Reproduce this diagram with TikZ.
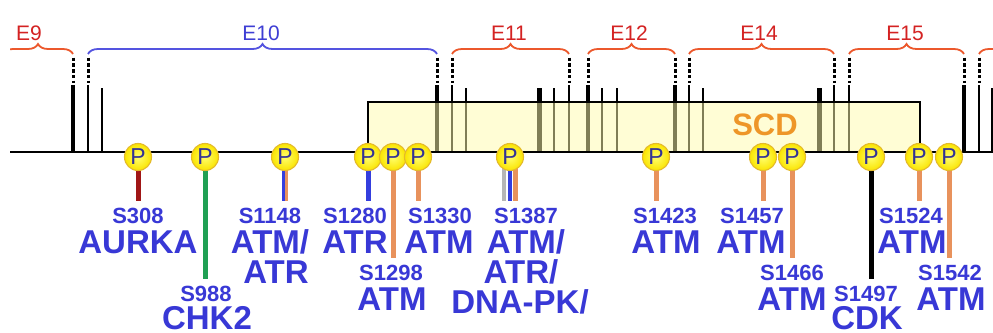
\documentclass[tikz,border=0pt]{standalone}
\usepackage{fontspec}
\setmainfont{Liberation Sans}
\usetikzlibrary{decorations.pathreplacing}

\definecolor{exred}{RGB}{212,34,34}
\definecolor{bracered}{RGB}{236,88,44}
\definecolor{exblue}{RGB}{62,62,212}
\definecolor{braceblue}{RGB}{84,84,224}
\definecolor{sitetext}{RGB}{56,56,214}
\definecolor{pletter}{RGB}{50,50,150}
\definecolor{pring}{RGB}{228,186,44}
\definecolor{ballin}{RGB}{255,255,110}
\definecolor{ballout}{RGB}{250,228,0}
\definecolor{stemorange}{RGB}{232,146,92}
\definecolor{stemblue}{RGB}{52,62,222}
\definecolor{stemred}{RGB}{160,22,22}
\definecolor{stemgreen}{RGB}{32,160,84}
\definecolor{stemgray}{RGB}{182,182,182}
\definecolor{scdfill}{RGB}{255,252,172}
\definecolor{scdtext}{RGB}{238,150,40}

\pgfdeclarelayer{paper}
\pgfdeclarelayer{stems}
\pgfsetlayers{paper,stems,main}

\tikzset{
  exonlabel/.style={font=\fontsize{21}{21}\selectfont, inner sep=0pt, anchor=base},
  exbrace/.style={decorate, decoration={brace, amplitude=10pt}, line width=1.8pt},
  barthick/.style={line width=4.5pt},
  barmid/.style={line width=2.8pt},
  barthin/.style={line width=2.2pt},
  barblock/.style={line width=5pt},
  dots/.style={line width=3pt, dash pattern=on 3.4pt off 2.4pt},
  pball/.style={circle, minimum size=27pt, inner sep=0pt, inner color=ballin,
    outer color=ballout, draw=pring, line width=1.1pt,
    font=\fontsize{23}{23}\selectfont, text=pletter},
  site/.style={font=\bfseries\fontsize{22}{22}\selectfont, text=sitetext,
    inner sep=0pt, anchor=base},
  kinase/.style={font=\bfseries\fontsize{33}{33}\selectfont, text=sitetext,
    inner sep=0pt, anchor=base},
  stem/.style={line width=5pt, shorten <=13pt, shorten >=6pt},
  halfstem/.style={line width=3pt, shorten <=13pt, shorten >=6pt},
  thirdstem/.style={line width=4.6pt, shorten <=11pt, shorten >=6pt},
}

\begin{document}
\begin{tikzpicture}[x=1pt, y=-1pt]
\useasboundingbox (0,0) rectangle (993,332);
\begin{pgfonlayer}{paper}
  \fill[white] (0,0) rectangle (993,332);
\end{pgfonlayer}

% exon boundary and internal bars
\foreach \x in {73,437,588,675,964} \draw[barthick] (\x,85) -- (\x,152);
\foreach \x in {88,452,569,689,834,849,979} \draw[barmid] (\x,85) -- (\x,152);
\foreach \x in {102,466,554,602,617,703,992} \draw[barthin] (\x,88) -- (\x,152);
\foreach \x in {539,819} \draw[barblock] (\x,88) -- (\x,152);
\foreach \x in {73,88,437,452,569,588,675,689,834,849,964,979}
  \draw[dots] (\x,57.5) -- (\x,83);

% SCD region, translucent over the bars
\fill[scdfill, fill opacity=0.5] (368,102) rectangle (920,152);
\draw[line width=2pt] (368,152) |- (920,102) -- (920,152);
\node[font=\bfseries\fontsize{31}{31}\selectfont, text=scdtext, inner sep=0pt] (scd) at (765,125) {SCD};

% main line
\draw[line width=2pt] (10,152) -- (993,152);

% exon braces
\begin{scope}
  \clip (10,0) rectangle (993,332);
  \draw[exbrace, bracered] (3,54) -- (73,54);
  \draw[exbrace, braceblue] (88,54) -- (437,54);
  \draw[exbrace, bracered] (452,54) -- (569,54);
  \draw[exbrace, bracered] (588,54) -- (675,54);
  \draw[exbrace, bracered] (689,54) -- (834,54);
  \draw[exbrace, bracered] (849,54) -- (964,54);
  \draw[exbrace, bracered] (979,54) -- (1110,54);
\end{scope}
\node[exonlabel, text=exred] (e9) at (29,40) {E9};
\node[exonlabel, text=exblue] (e10) at (261,40) {E10};
\node[exonlabel, text=exred] (e11) at (509,40) {E11};
\node[exonlabel, text=exred] (e12) at (629,40) {E12};
\node[exonlabel, text=exred] (e14) at (759,40) {E14};
\node[exonlabel, text=exred] (e15) at (905,40) {E15};

% phosphorylation sites
\node[pball] (p308)  at (138,157) {P};
\node[pball] (p988)  at (205,157) {P};
\node[pball] (p1148) at (285,157) {P};
\node[pball] (p1280) at (368,157) {P};
\node[pball] (p1298) at (393,157) {P};
\node[pball] (p1330) at (418,157) {P};
\node[pball] (p1387) at (510,157) {P};
\node[pball] (p1423) at (656,157) {P};
\node[pball] (p1457) at (763,157) {P};
\node[pball] (p1466) at (792,157) {P};
\node[pball] (p1497) at (871,157) {P};
\node[pball] (p1524) at (919,157) {P};
\node[pball] (p1542) at (949,157) {P};

% residues and kinases
\node[site] (s308) at (138,223) {S308};
\node[kinase] (k308) at (138,253) {AURKA};
\node[site] (s988) at (206,301) {S988};
\node[kinase] (k988) at (207,329) {CHK2};
\node[site] (s1148) at (270,223) {S1148};
\node[kinase] (k1148a) at (270,253) {ATM/};
\node[kinase] (k1148b) at (276,283) {ATR};
\node[site] (s1280) at (355,223) {S1280};
\node[kinase] (k1280) at (355,253) {ATR};
\node[site] (s1298) at (391,280) {S1298};
\node[kinase] (k1298) at (392,310) {ATM};
\node[site] (s1330) at (440,223) {S1330};
\node[kinase] (k1330) at (439,253) {ATM};
\node[site] (s1387) at (526,223) {S1387};
\node[kinase] (k1387a) at (526,253) {ATM/};
\node[kinase] (k1387b) at (521,283) {ATR/};
\node[kinase] (k1387c) at (520,313) {DNA-PK/};
\node[site] (s1423) at (665,223) {S1423};
\node[kinase] (k1423) at (666,253) {ATM};
\node[site] (s1457) at (752,223) {S1457};
\node[kinase] (k1457) at (751,253) {ATM};
\node[site] (s1466) at (792,280) {S1466};
\node[kinase] (k1466) at (792,310) {ATM};
\node[site] (s1497) at (866,301) {S1497};
\node[kinase] (k1497) at (867,329) {CDK};
\node[site] (s1524) at (911,223) {S1524};
\node[kinase] (k1524) at (912,253) {ATM};
\node[site] (s1542) at (950,280) {S1542};
\node[kinase] (k1542) at (951,310) {ATM};

% stems from each site to its residue label
\begin{pgfonlayer}{stems}
  \draw[stem, stemred] (p308.center) -- (p308.center |- s308.north);
  \draw[stem, stemgreen] (p988.center) -- (p988.center |- s988.north);
  \draw[halfstem, stemblue] ([xshift=-1.5pt]p1148.center) -- ([xshift=-1.5pt]p1148.center |- s1148.north);
  \draw[halfstem, stemorange] ([xshift=1.5pt]p1148.center) -- ([xshift=1.5pt]p1148.center |- s1148.north);
  \draw[stem, stemblue] (p1280.center) -- (p1280.center |- s1280.north);
  \draw[stem, stemorange] (p1298.center) -- (p1298.center |- s1298.north);
  \draw[stem, stemorange] (p1330.center) -- (p1330.center |- s1330.north);
  \draw[thirdstem, stemgray] ([xshift=-6pt]p1387.center) -- ([xshift=-6pt]p1387.center |- s1387.north);
  \draw[thirdstem, stemblue] (p1387.center) -- (p1387.center |- s1387.north);
  \draw[thirdstem, stemorange] ([xshift=5.5pt]p1387.center) -- ([xshift=5.5pt]p1387.center |- s1387.north);
  \draw[stem, stemorange] (p1423.center) -- (p1423.center |- s1423.north);
  \draw[stem, stemorange] (p1457.center) -- (p1457.center |- s1457.north);
  \draw[stem, stemorange] (p1466.center) -- (p1466.center |- s1466.north);
  \draw[stem, black] (p1497.center) -- (p1497.center |- s1497.north);
  \draw[stem, stemorange] (p1524.center) -- (p1524.center |- s1524.north);
  \draw[stem, stemorange] (p1542.center) -- (p1542.center |- s1542.north);
\end{pgfonlayer}
\end{tikzpicture}
\end{document}
